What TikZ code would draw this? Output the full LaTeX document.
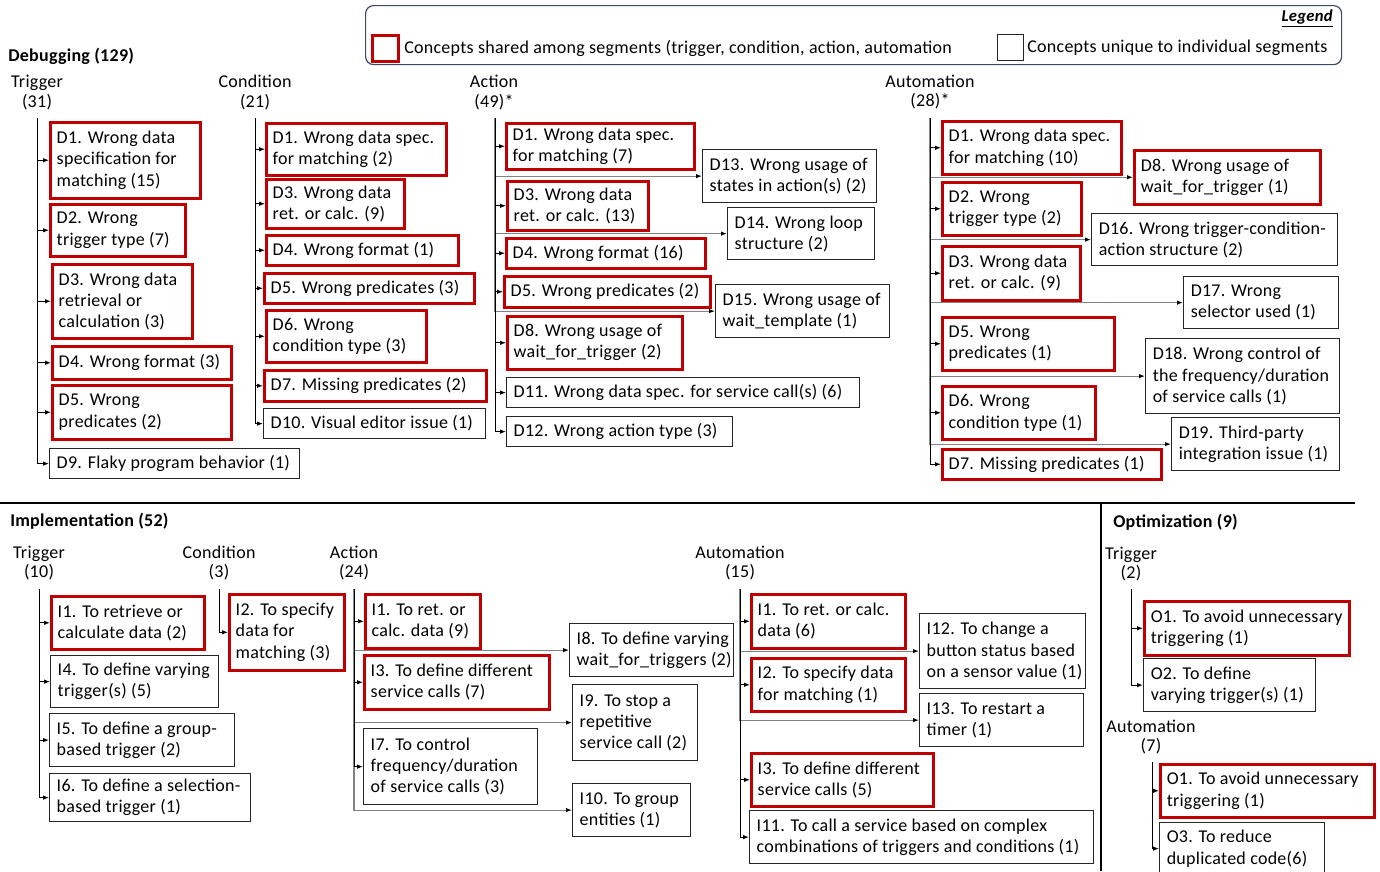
\documentclass[tikz,border=0pt]{standalone}
\usepackage{fontspec}
\setmainfont[LetterSpace=1.5]{Carlito}
\usetikzlibrary{arrows.meta}
\definecolor{cred}{RGB}{192,0,0}
\definecolor{legc}{RGB}{60,74,100}
\definecolor{lgray}{RGB}{130,130,130}
\tikzset{
  redbox/.style={draw=cred, line width=1.9pt, inner sep=0pt},
  blkbox/.style={draw=black!85, line width=0.9pt, inner sep=0pt},
  txt/.style={inner sep=0pt, align=left, font=\fontsize{13.5}{15.9}\selectfont},
  hdr/.style={inner sep=0pt, align=center, font=\fontsize{13.5}{14.5}\selectfont},
  sec/.style={inner sep=0pt, anchor=west, font=\fontsize{13.5}{15}\selectfont\bfseries},
  arr/.style={-{Latex[length=4.5pt,width=3.4pt,color=black]}, line width=0.7pt, black},
  larr/.style={-{Latex[length=4.5pt,width=3.4pt,color=black]}, line width=0.9pt, lgray},
  sepline/.style={line width=1.8pt, black},
}
\newcommand{\BX}[7]{%
  \pgfmathsetmacro{\bxw}{(#5-#3)*0.75}%
  \pgfmathsetmacro{\bxh}{(#6-#4)*0.75}%
  \node[#2, minimum width=\bxw pt, minimum height=\bxh pt, anchor=north west] (#1) at (#3,#4) {};%
  \node[txt, anchor=west] (#1-t) at ([xshift=5.6pt]#1.west) {#7};%
}
\begin{document}
\begin{tikzpicture}[x=0.75pt,y=-0.75pt]
\useasboundingbox (0,0) rectangle (1380,871);

% ---------- Legend ----------
\pgfmathsetmacro{\lw}{(1341-365)*0.75}
\pgfmathsetmacro{\lh}{(64-5)*0.75}
\node[draw=legc, line width=0.9pt, rounded corners=6pt, inner sep=0pt, minimum width=\lw pt, minimum height=\lh pt, anchor=north west] (leg) at (365,5) {};
\node[inner sep=0pt, anchor=east, font=\fontsize{12.5}{13}\selectfont\bfseries\itshape] (legt) at (1333,18) {\underline{Legend}};
\BX{lr}{redbox}{371}{34}{397}{60}{}
\node[txt, anchor=west] (lrt) at (404,48) {Concepts shared among segments (trigger, condition, action, automation};
\BX{lb}{blkbox}{997}{34}{1023}{60}{}
\node[txt, anchor=west] (lbt) at (1027,48) {Concepts unique to individual segments};

% ---------- Debugging ----------
\node[sec] (dbg) at (8,56) {Debugging (129)};
\node[hdr] (dT) at (37,92.5) {Trigger\\(31)};
\node[hdr] (dC) at (255,92.5) {Condition\\(21)};
\node[hdr] (dA) at (494,92.5) {Action\\(49)*};
\node[hdr] (dM) at (930,92) {Automation\\(28)*};
\coordinate (dTs) at (37,118);
\coordinate (dCs) at (255,118);
\coordinate (dAs) at (495,118);
\coordinate (dMs) at (930,118);

\BX{dt1}{redbox}{49}{121}{199}{197}{D1. Wrong data\\specification for\\matching (15)}
\BX{dt2}{redbox}{49}{203}{184}{255}{D2. Wrong\\trigger type (7)}
\BX{dt3}{redbox}{51}{263}{191}{337}{D3. Wrong data\\retrieval or\\calculation (3)}
\BX{dt4}{redbox}{51}{345}{230}{378}{D4. Wrong format (3)}
\BX{dt5}{redbox}{51}{384}{230}{438}{D5. Wrong\\predicates (2)}
\BX{dt9}{blkbox}{49}{448}{299}{478}{D9. Flaky program behavior (1)}

\BX{dc1}{redbox}{265}{122}{445}{174}{D1. Wrong data spec.\\for matching (2)}
\BX{dc3}{redbox}{265}{178}{403}{227}{D3. Wrong data\\ret. or calc. (9)}
\BX{dc4}{redbox}{265}{234}{457}{264}{D4. Wrong format (1)}
\BX{dc5}{redbox}{263}{272}{473}{302}{D5. Wrong predicates (3)}
\BX{dc6}{redbox}{265}{309}{425}{361}{D6. Wrong\\condition type (3)}
\BX{dc7}{redbox}{263}{369}{485}{400}{D7. Missing predicates (2)}
\BX{dc10}{blkbox}{263}{408}{485}{438}{D10. Visual editor issue (1)}

\BX{da1}{redbox}{505}{122}{693}{168}{D1. Wrong data spec.\\for matching (7)}
\BX{da13}{blkbox}{702}{149}{876}{202}{D13. Wrong usage of\\states in action(s) (2)}
\BX{da3}{redbox}{506}{180}{647}{229}{D3. Wrong data\\ret. or calc. (13)}
\BX{da14}{blkbox}{727}{207}{874}{259}{D14. Wrong loop\\structure (2)}
\BX{da4}{redbox}{505}{237}{704}{267}{D4. Wrong format (16)}
\BX{da5}{redbox}{503}{275}{709}{306}{D5. Wrong predicates (2)}
\BX{da15}{blkbox}{715}{284}{889}{337}{D15. Wrong usage of\\wait\_template (1)}
\BX{da8}{redbox}{506}{315}{681}{368}{D8. Wrong usage of\\wait\_for\_trigger (2)}
\BX{da11}{blkbox}{506}{377}{859}{407}{D11. Wrong data spec. for service call(s) (6)}
\BX{da12}{blkbox}{506}{416}{732}{446}{D12. Wrong action type (3)}

\BX{dm1}{redbox}{941}{120}{1120}{173}{D1. Wrong data spec.\\for matching (10)}
\BX{dm8}{redbox}{1133}{149}{1319}{203}{D8. Wrong usage of\\wait\_for\_trigger (1)}
\BX{dm2}{redbox}{941}{181}{1080}{234}{D2. Wrong\\trigger type (2)}
\BX{dm16}{blkbox}{1091}{213}{1337}{265}{D16. Wrong trigger-condition-\\action structure (2)}
\BX{dm3}{redbox}{941}{245}{1079}{299}{D3. Wrong data\\ret. or calc. (9)}
\BX{dm17}{blkbox}{1183}{276}{1338}{328}{D17. Wrong\\selector used (1)}
\BX{dm5}{redbox}{941}{316}{1113}{369}{D5. Wrong\\predicates (1)}
\BX{dm18}{blkbox}{1145}{338}{1339}{413}{D18. Wrong control of\\the frequency/duration\\of service calls (1)}
\BX{dm6}{redbox}{941}{385}{1094}{438}{D6. Wrong\\condition type (1)}
\BX{dm19}{blkbox}{1171}{417}{1339}{470}{D19. Third-party\\integration issue (1)}
\BX{dm7}{redbox}{941}{448}{1160}{478}{D7. Missing predicates (1)}

% connectors debugging
\foreach \n in {da13,da14,da15} \draw[larr] (dAs) |- (\n.west);
\foreach \n in {dm8,dm16,dm17,dm18,dm19} \draw[larr] (dMs) |- (\n.west);
\foreach \n in {dt1,dt2,dt3,dt4,dt5,dt9} \draw[arr] (dTs) |- (\n.west);
\foreach \n in {dc1,dc3,dc4,dc5,dc6,dc7,dc10} \draw[arr] (dCs) |- (\n.west);
\foreach \n in {da1,da3,da4,da5,da8,da11,da12} \draw[arr] (dAs) |- (\n.west);
\foreach \n in {dm1,dm2,dm3,dm5,dm6,dm7} \draw[arr] (dMs) |- (\n.west);

% ---------- separators ----------
\draw[sepline] (0,503) -- (1355,503);
\draw[sepline] (1101,503) -- (1101,871);

% ---------- Implementation ----------
\node[sec] (impl) at (10,521) {Implementation (52)};
\node[hdr] (iT) at (39,563) {Trigger\\(10)};
\node[hdr] (iC) at (219,563) {Condition\\(3)};
\node[hdr] (iA) at (354,563) {Action\\(24)};
\node[hdr] (iM) at (740,563) {Automation\\(15)};
\coordinate (iTs) at (39,589);
\coordinate (iCs) at (219,589);
\coordinate (iAs) at (354,589);
\coordinate (iMs) at (740,589);

\BX{it1}{redbox}{50}{595}{203}{648}{I1. To retrieve or\\calculate data (2)}
\BX{it4}{blkbox}{50}{655}{218}{707}{I4. To define varying\\trigger(s) (5)}
\BX{it5}{blkbox}{49}{713}{234}{766}{I5. To define a group-\\based trigger (2)}
\BX{it6}{blkbox}{49}{773}{250}{821}{I6. To define a selection-\\based trigger (1)}

\BX{ic2}{redbox}{228}{593}{343}{669}{I2. To specify\\data for\\matching (3)}

\BX{ia1}{redbox}{364}{593}{479}{647}{I1. To ret. or\\calc. data (9)}
\BX{ia8}{blkbox}{569}{623}{733}{676}{I8. To define varying\\wait\_for\_triggers (2)}
\BX{ia3}{redbox}{363}{654}{548}{708}{I3. To define different\\service calls (7)}
\BX{ia9}{blkbox}{572}{684}{697}{760}{I9. To stop a\\repetitive\\service call (2)}
\BX{ia7}{blkbox}{363}{728}{537}{804}{I7. To control\\frequency/duration\\of service calls (3)}
\BX{ia10}{blkbox}{572}{783}{690}{836}{I10. To group\\entities (1)}

\BX{im1}{redbox}{750}{593}{904}{647}{I1. To ret. or calc.\\data (6)}
\BX{im12}{blkbox}{919}{613}{1085}{688}{I12. To change a\\button status based\\on a sensor value (1)}
\BX{im2}{redbox}{750}{657}{904}{710}{I2. To specify data\\for matching (1)}
\BX{im13}{blkbox}{919}{693}{1083}{746}{I13. To restart a\\timer (1)}
\BX{im3}{redbox}{750}{752}{932}{805}{I3. To define different\\service calls (5)}
\BX{im11}{blkbox}{749}{810}{1093}{863}{I11. To call a service based on complex\\combinations of triggers and conditions (1)}

\foreach \n in {ia8,ia9,ia10} \draw[larr] (iAs) |- (\n.west);
\foreach \n in {im12,im13} \draw[larr] (iMs) |- (\n.west);
\foreach \n in {it1,it4,it5,it6} \draw[arr] (iTs) |- (\n.west);
\draw[arr] (iCs) |- (ic2.west);
\foreach \n in {ia1,ia3,ia7} \draw[arr] (iAs) |- (\n.west);
\foreach \n in {im1,im2,im3,im11} \draw[arr] (iMs) |- (\n.west);

% ---------- Optimization ----------
\node[sec] (opt) at (1113,522) {Optimization (9)};
\node[hdr] (oT) at (1131,564) {Trigger\\(2)};
\node[hdr] (oM) at (1151,737) {Automation\\(7)};
\coordinate (oTs) at (1131,589);
\coordinate (oMs) at (1152,762);

\BX{oo1}{redbox}{1143}{600}{1348}{654}{O1. To avoid unnecessary\\triggering (1)}
\BX{oo2}{blkbox}{1143}{658}{1315}{711}{O2. To define\\varying trigger(s) (1)}
\BX{om1}{redbox}{1159}{763}{1373}{816}{O1. To avoid unnecessary\\triggering (1)}
\BX{om3}{blkbox}{1159}{822}{1324}{874}{O3. To reduce\\duplicated code(6)}

\foreach \n in {oo1,oo2} \draw[arr] (oTs) |- (\n.west);
\foreach \n in {om1,om3} \draw[arr] (oMs) |- (\n.west);
\end{tikzpicture}
\end{document}
